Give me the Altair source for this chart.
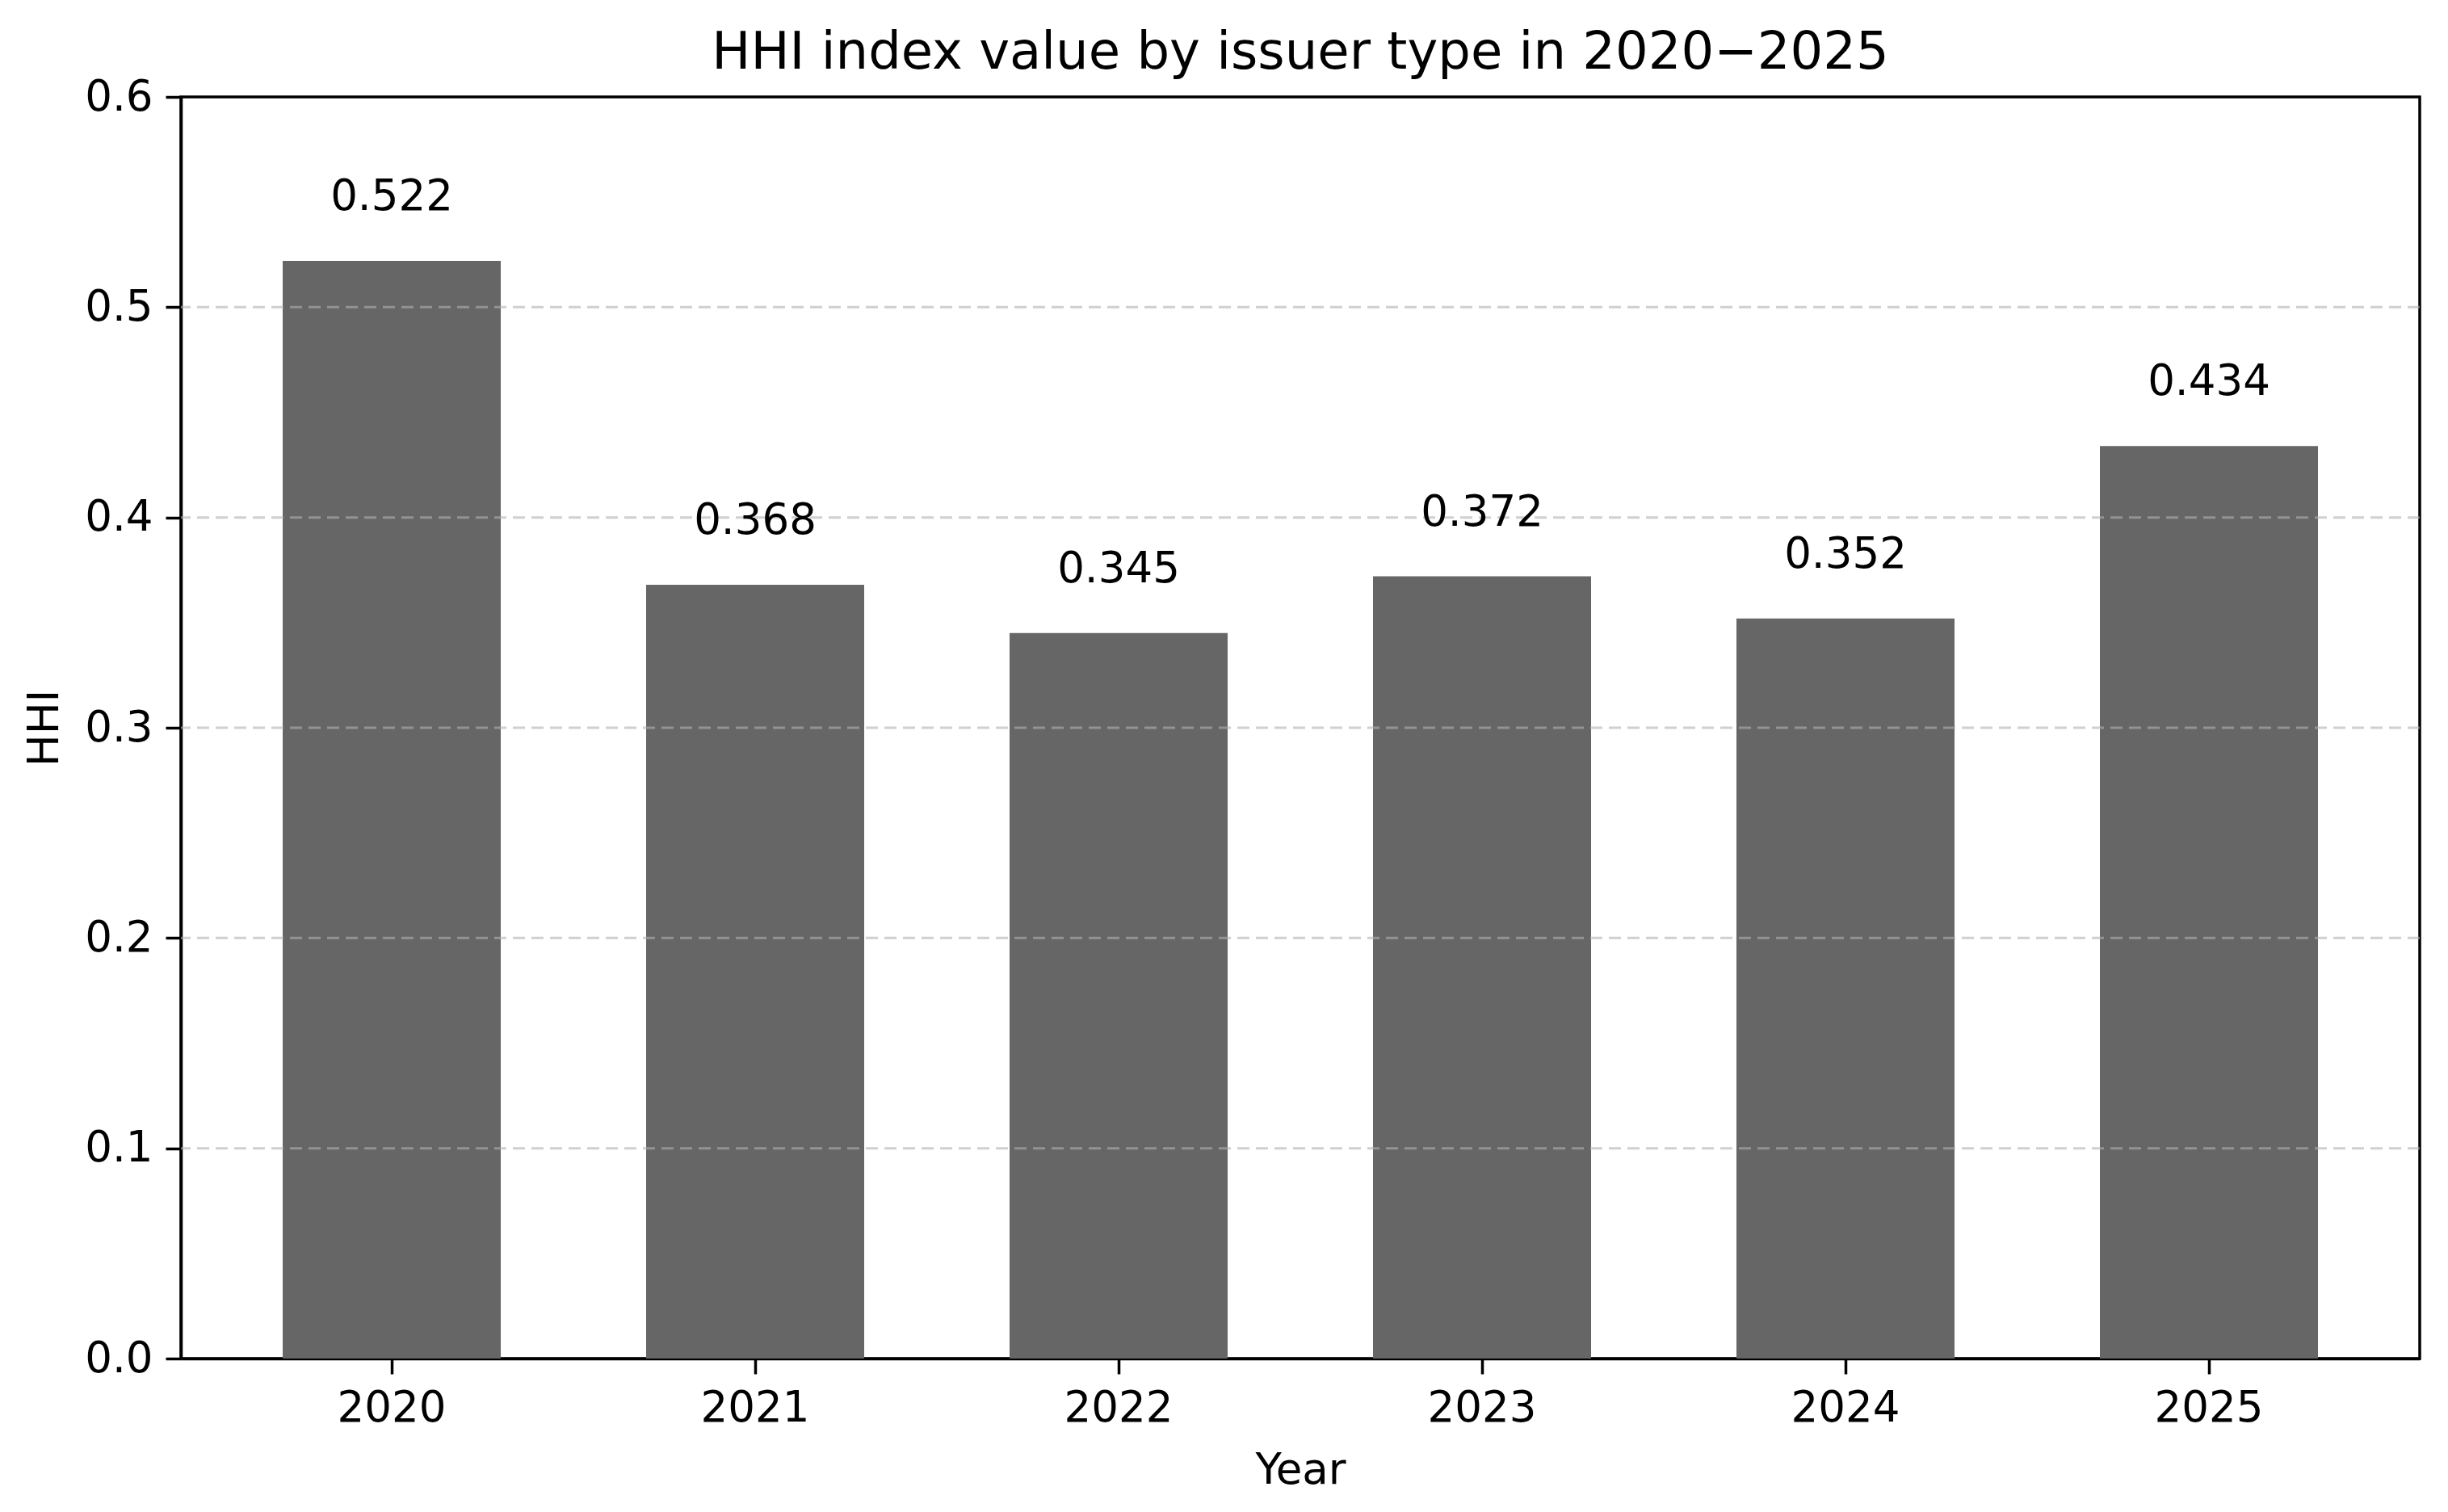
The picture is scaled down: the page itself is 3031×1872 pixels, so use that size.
import altair as alt
import pandas as pd

years = ["2020", "2021", "2022", "2023", "2024", "2025"]
hhi = [0.522, 0.368, 0.345, 0.372, 0.352, 0.434]
labels = ["0.522", "0.368", "0.345", "0.372", "0.352", "0.434"]
y_ticks = [0.0, 0.1, 0.2, 0.3, 0.4, 0.5, 0.6]
grid_vals = [0.1, 0.2, 0.3, 0.4, 0.5]

df = pd.DataFrame({"Year": years, "HHI": hhi, "label": labels})
grid_df = pd.DataFrame({"g": grid_vals})

FONT = "DejaVu Sans"
FS = 53

x_enc = alt.X(
    "Year:N",
    sort=years,
    scale=alt.Scale(paddingInner=0.4, paddingOuter=0.28),
    axis=alt.Axis(
        title="Year",
        labelAngle=0,
        labelFont=FONT,
        labelFontSize=FS,
        labelColor="black",
        labelPadding=16,
        tickSize=19,
        tickWidth=3.5,
        tickColor="black",
        domainColor="black",
        domainWidth=3.5,
        titleFont=FONT,
        titleFontSize=FS,
        titleFontWeight="normal",
        titleColor="black",
        titlePadding=24,
        grid=False,
    ),
)

y_enc = alt.Y(
    "HHI:Q",
    scale=alt.Scale(domain=[0, 0.6], nice=False),
    axis=alt.Axis(
        title="HHI",
        values=y_ticks,
        format=".1f",
        labelFont=FONT,
        labelFontSize=FS,
        labelColor="black",
        labelPadding=16,
        tickSize=19,
        tickWidth=3.5,
        tickColor="black",
        domainColor="black",
        domainWidth=3.5,
        titleFont=FONT,
        titleFontSize=FS,
        titleFontWeight="normal",
        titleColor="black",
        titlePadding=22,
        grid=False,
    ),
)

bars = alt.Chart(df).mark_bar(color="#666666").encode(x=x_enc, y=y_enc)

grid = alt.Chart(grid_df).mark_rule(
    color="#b0b0b0", opacity=0.6, strokeWidth=3, strokeDash=[15, 8]
).encode(y=alt.Y("g:Q"))

text = alt.Chart(df).mark_text(
    font=FONT, fontSize=FS, color="black", baseline="alphabetic", dy=-63
).encode(
    x=alt.X("Year:N", sort=years),
    y=alt.Y("HHI:Q"),
    text="label:N",
)

chart = (
    alt.layer(bars, grid, text)
    .properties(
        width=2772,
        height=1562,
        title=alt.TitleParams(
            "HHI index value by issuer type in 2020\u22122025",
            font=FONT,
            fontSize=64,
            fontWeight="normal",
            color="black",
            anchor="middle",
            frame="group",
            baseline="bottom",
            offset=20,
            dy=88,
        ),
        autosize=alt.AutoSizeParams(type="none"),
        padding={"left": 216, "top": 112, "right": 27, "bottom": 182},
        background="white",
    )
    .configure_view(stroke="black", strokeWidth=3.5)
)

chart.save("out.html", embed_options={"renderer": "svg", "actions": False})
